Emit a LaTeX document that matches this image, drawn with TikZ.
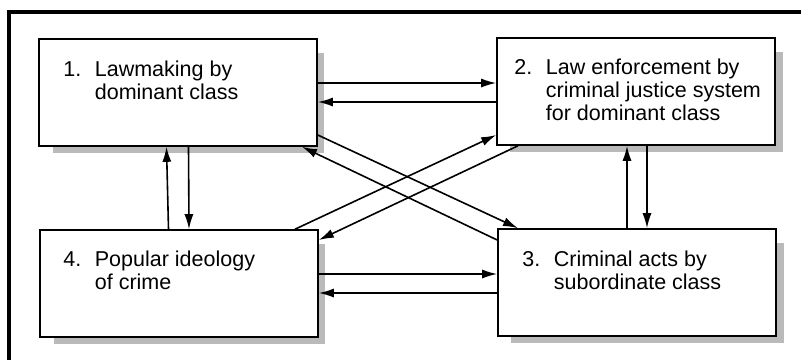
\documentclass[tikz,border=0pt]{standalone}
\usepackage{fontspec}
\setmainfont{Liberation Sans}
\usepackage{tikz}
\usetikzlibrary{arrows.meta, positioning, calc}
\newcommand{\numtext}[2]{\makebox[31.5pt][l]{#1}\begin{tabular}[t]{@{}l@{}}#2\end{tabular}}
\tikzset{
	stage/.style={draw, line width=1.6pt, fill=white, minimum width=278pt, minimum height=107pt, inner sep=0pt},
	stageshadow/.style={black!27},
	stagetext/.style={anchor=base west, inner sep=0pt, font=\fontsize{21.5}{23}\selectfont},
	link/.style={-{Latex[length=15pt,width=9pt]}, line width=1.6pt}
}

\begin{document}
\begin{tikzpicture}[x=1pt, y=1pt]
	\useasboundingbox (0,-360) rectangle (801,0);

	%open frame
	\coordinate (fl) at (9,-360);
	\coordinate (fc) at (9,-12);
	\coordinate (fr) at (801,-12);
	\draw [line width=3.2pt] (fl) -- (fc) -- (fr);

	%shadows
	\fill [stageshadow] (53,-53) rectangle (324,-153);
	\fill [stageshadow] (510,-52) rectangle (783,-152);
	\fill [stageshadow] (511,-243) rectangle (784,-343);
	\fill [stageshadow] (54,-244) rectangle (325,-344);

	\node [stage] (law) at (178,-92.5) {};
	\node [stage] (enf) at (636,-91.5) {};
	\node [stage] (acts) at (637,-282.5) {};
	\node [stage] (ideo) at (179,-283.5) {};

	\node [stagetext] (lawt) at ($(law.north west)+(25,-38)$) {\numtext{1.}{Lawmaking by\\dominant class}};
	\node [stagetext] (enft) at ($(enf.north west)+(18,-37)$) {\numtext{2.}{Law enforcement by\\criminal justice system\\for dominant class}};
	\node [stagetext] (actst) at ($(acts.north west)+(25,-38)$) {\numtext{3.}{Criminal acts by\\subordinate class}};
	\node [stagetext] (ideot) at ($(ideo.north west)+(24,-37)$) {\numtext{4.}{Popular ideology\\of crime}};

	%horizontal pairs
	\draw [link] ([yshift=9.5pt]law.east) -- ([yshift=9.5pt]law.east -| enf.west);
	\draw [link] ([yshift=-9.5pt]law.east -| enf.west) -- ([yshift=-9.5pt]law.east);
	\draw [link] ([yshift=9.5pt]ideo.east) -- ([yshift=9.5pt]ideo.east -| acts.west);
	\draw [link] ([yshift=-9.5pt]ideo.east -| acts.west) -- ([yshift=-9.5pt]ideo.east);

	%vertical pairs
	\draw [link] ([xshift=-10.5pt]ideo.north) -- ([xshift=-11.5pt]law.south);
	\draw [link] ([xshift=10.5pt]law.south) -- ([xshift=10pt]ideo.north);
	\draw [link] ([xshift=-10pt]acts.north) -- ([xshift=-9pt]enf.south);
	\draw [link] ([xshift=11pt]enf.south) -- ([xshift=10pt]acts.north);

	%crossing diagonals
	\draw [link] ([yshift=-42.5pt]law.east) -- ([xshift=-119pt]acts.north);
	\draw [link] ([yshift=42.5pt]acts.west) -- ([xshift=124pt]law.south);
	\draw [link] ([xshift=116pt]ideo.north) -- ([yshift=-43.5pt]enf.west);
	\draw [link] ([xshift=-118pt]enf.south) -- ([yshift=43.5pt]ideo.east);

\end{tikzpicture}
\end{document}
